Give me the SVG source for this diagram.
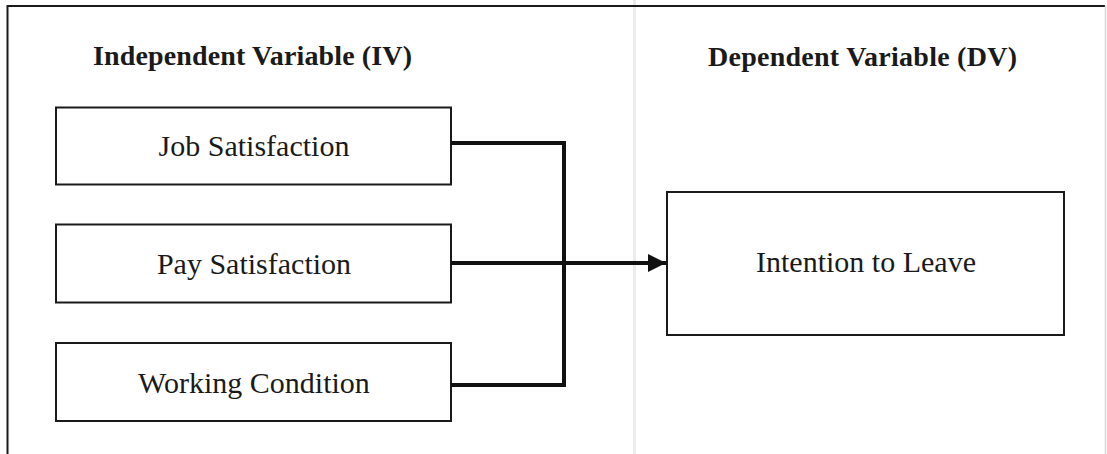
<svg xmlns="http://www.w3.org/2000/svg" width="1107" height="454" viewBox="0 0 1107 454">
<style>
.box{fill:none;stroke:#1a1a1a;stroke-width:2}
.lbl{font-family:"Liberation Serif","Times New Roman",serif;font-size:30px;fill:#1a1a1a;text-anchor:middle}
.hdr{font-family:"Liberation Serif","Times New Roman",serif;font-size:28px;font-weight:bold;fill:#1a1a1a}
.conn{fill:none;stroke:#111;stroke-width:4}
</style>
<defs>
<marker id="arr" markerUnits="userSpaceOnUse" markerWidth="20" markerHeight="18" refX="18" refY="9" orient="auto">
<path d="M0,0 L18,9 L0,18 Z" fill="#111"/>
</marker>
</defs>
<rect width="1107" height="454" fill="#fff"/>
<line x1="634.5" y1="0" x2="634.5" y2="454" stroke="#ececec" stroke-width="3"/>
<g id="frame">
<path d="M7.5,454 V6 H1105" fill="none" stroke="#1a1a1a" stroke-width="2"/>
<line x1="1105.5" y1="6" x2="1105.5" y2="454" stroke="#d8d8d8" stroke-width="1.5"/>
</g>
<g id="hdr-iv"><text class="hdr" x="93" y="65" textLength="319" lengthAdjust="spacing">Independent Variable (IV)</text></g>
<g id="hdr-dv"><text class="hdr" x="708" y="66" textLength="309" lengthAdjust="spacing">Dependent Variable (DV)</text></g>
<g id="job"><rect class="box" x="56" y="107.5" width="395" height="77"/><text class="lbl" x="254" y="156">Job Satisfaction</text></g>
<g id="pay"><rect class="box" x="56" y="224.5" width="395" height="78"/><text class="lbl" x="254" y="274">Pay Satisfaction</text></g>
<g id="work"><rect class="box" x="56" y="343" width="395" height="78"/><text class="lbl" x="254" y="393">Working Condition</text></g>
<g id="itl"><rect class="box" x="667" y="192" width="397" height="143"/><text class="lbl" x="866" y="272">Intention to Leave</text></g>
<g id="connectors">
<path class="conn" d="M451,143 H564 V385 H451"/>
<path class="conn" d="M451,263 H666" marker-end="url(#arr)"/>
</g>
</svg>
